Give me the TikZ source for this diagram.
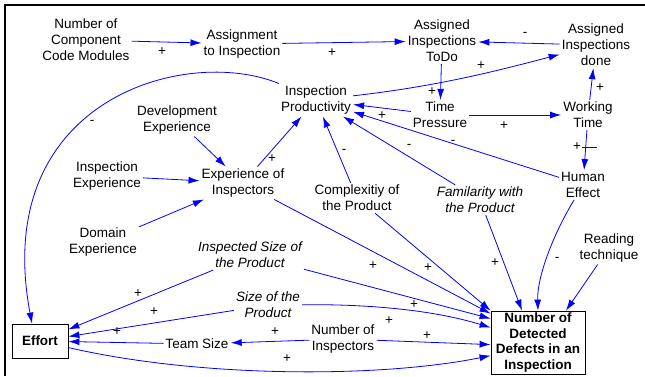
\documentclass[tikz,border=0pt]{standalone}
\usepackage{fontspec}
\setmainfont{Liberation Sans}
\usetikzlibrary{arrows.meta}

\tikzset{
  var/.style={align=center,inner sep=2pt,font=\fontsize{13.5}{16}\selectfont},
  ivar/.style={var,font=\fontsize{13.5}{16}\selectfont\itshape},
  stock/.style={draw,line width=0.8pt,align=center,inner sep=1pt,font=\fontsize{13.5}{15.5}\selectfont\bfseries},
  link/.style={blue,line width=0.8pt,-{Latex[length=11pt,width=7pt]}},
  sign/.style={inner sep=0pt,font=\fontsize{13.5}{14}\selectfont}
}

\begin{document}
\begin{tikzpicture}[x=1pt,y=-1pt]
\useasboundingbox (0,0) rectangle (645,376);
\draw[line width=2pt] (645,5) -- (5,5) -- (5,376);

% variables
\node[var] (ncm) at (86,40) {Number of\\Component\\Code Modules};
\node[var] (asg) at (242,44) {Assignment\\to Inspection};
\node[var] (aitd) at (442,41) {Assigned\\Inspections\\ToDo};
\node[var] (aid) at (596,45) {Assigned\\Inspections\\done};
\node[var] (prod) at (316,100) {Inspection\\Productivity};
\node[var] (tp) at (440,115) {Time\\Pressure};
\node[var] (wt) at (588,115) {Working\\Time};
\node[var] (he) at (583,185) {Human\\Effect};
\node[var] (dev) at (177,120) {Development\\Experience};
\node[var] (iexp) at (107,176) {Inspection\\Experience};
\node[var] (exi) at (243,183) {Experience of\\Inspectors};
\node[var] (dom) at (103,242) {Domain\\Experience};
\node[var] (cplx) at (357,198) {Complexitiy of\\the Product};
\node[ivar] (fam) at (480,200) {Familarity with\\the Product};
\node[var] (rt) at (609,248) {Reading\\technique};
\node[ivar] (isz) at (250,255) {Inspected Size of\\the Product};
\node[ivar] (sz) at (268,305) {Size of the\\Product};
\node[var] (team) at (197,344) {Team Size};
\node[var] (ninsp) at (343,339) {Number of\\Inspectors};
\node[stock,minimum width=56pt,minimum height=34pt] (effort) at (40,341) {Effort};
\node[stock,minimum width=94pt,minimum height=63pt] (def) at (538,342.5) {Number of\\Detected\\Defects in an\\Inspection};

% upper loop
\draw[link] (ncm) -- (asg);
\draw[link] (asg) -- (aitd);
\draw[link] (aid) -- (aitd);
\draw[link] (prod) .. controls (440,86) and (500,70) .. (aid);
\draw[link] (aitd) -- (tp);
\draw[link] (tp) -- (prod);
\draw[link] (tp) -- (wt);
\draw[link] (wt) -- (aid);
\draw[link] (wt) -- (he);
\draw[blue,line width=0.8pt] (582,147) -- (597,147);
\draw[link] (he) -- (prod);
\draw[link] (fam) -- (prod);
\draw[link] (cplx) -- (prod);
\draw[link] (exi) -- (prod);
\draw[link] (dev) -- (exi);
\draw[link] (iexp) -- (exi);
\draw[link] (dom) -- (exi);
\draw[link] (prod.north west) .. controls (185,45) and (-10,100) .. ([xshift=-8pt]effort.north);

% into effort and defects
\draw[link] (exi) -- ([yshift=-3pt]def.north west);
\draw[link] (cplx) -- (def.north west);
\draw[link] (isz) -- (effort);
\draw[link] (isz) -- ([yshift=-8pt]def.north west);
\draw[link] (sz) -- (effort);
\draw[link] (sz) .. controls (380,304) and (440,312) .. ([yshift=-17pt]def.north west);
\draw[link] (ninsp) -- ([yshift=-34pt]def.north west);
\draw[link] (ninsp) -- (team);
\draw[link] (team) -- (effort);
\draw[link] (effort) .. controls (200,378) and (380,378) .. ([yshift=-45pt]def.north west);
\draw[link] (fam) -- ([xshift=-16pt]def.north);
\draw[link] (he) .. controls (550,240) and (537,280) .. (def.north);
\draw[link] (rt) -- ([xshift=28pt]def.north);

% polarities
\foreach \x/\y/\s [count=\i] in {162/52/+,332/53/+,525/34/-,481/66/+,432/92/+,600/88/+,
  382/116/+,504/126/+,577/147/+,272/159/+,344/151/-,409/146/-,453/142/-,92/122/-,
  373/266/+,428/268/+,495/263/+,557/259/-,414/305/+,389/321/+,427/336/+,
  138/294/+,154/312/+,117/332/+,275/332/+,287/359/+} {
\node[sign] (s\i) at (\x,\y) {\s};
}
\end{tikzpicture}
\end{document}
